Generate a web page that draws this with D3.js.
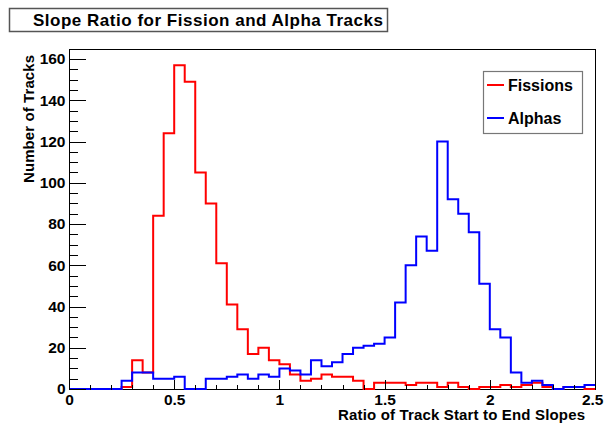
<!DOCTYPE html>
<html>
<head>
<meta charset="utf-8">
<script src="https://cdn.jsdelivr.net/npm/d3@7"></script>
<style>
  body { margin: 0; background: #fff; }
  svg { display: block; }
  text { font-family: "Liberation Sans", Arial, Helvetica, sans-serif; font-weight: bold; }
</style>
</head>
<body>
<script>
// Histogram data: 50 bins of width 0.05 from 0 to 2.5
const binWidth = 0.05;
const fissions = [0, 0, 0, 0, 0, 1, 14, 8, 84, 124,
                  157, 149, 105, 90, 61, 41, 29, 17, 20, 14,
                  12, 7, 4, 5, 7, 6, 6, 4, 0, 3,
                  3, 3, 2, 3, 3, 1, 3, 1, 0, 1,
                  1, 2, 1, 2, 3, 1, 0, 1, 1, 0];
const alphas = [0, 0, 0, 0, 0, 4, 8, 8, 5, 5,
                6, 0, 0, 5, 5, 6, 7, 5, 7, 6,
                10, 9, 7, 14, 11, 13, 17, 20, 21, 22,
                25, 42, 60, 74, 67, 120, 92, 85, 76, 51,
                29, 25, 8, 3, 4, 2, 0, 1, 1, 2];
const yTicks = [0, 20, 40, 60, 80, 100, 120, 140, 160];
const xTicks = [0, 0.5, 1, 1.5, 2, 2.5];
const seriesNames = ["Fissions", "Alphas"];
const seriesColors = ["#ff0000", "#0000ff"];

const W = 604, H = 425;
const frame = { left: 69, right: 595, top: 49, bottom: 389 };

const svg = d3.select("body").append("svg")
  .attr("width", W).attr("height", H);

const x = d3.scaleLinear().domain([0, 2.5]).range([frame.left, frame.right]);
const y = d3.scaleLinear().domain([0, 157 * 1.05]).range([frame.bottom, frame.top]);

// Frame
svg.append("rect")
  .attr("x", frame.left + 0.5).attr("y", frame.top + 0.5)
  .attr("width", frame.right - frame.left).attr("height", frame.bottom - frame.top)
  .attr("fill", "none").attr("stroke", "#000").attr("stroke-width", 1)
  .attr("shape-rendering", "crispEdges");

// Histograms drawn as step outlines
function stepPoints(vals) {
  const pts = vals.map((v, i) => [i * binWidth, v]);
  pts.push([vals.length * binWidth, vals[vals.length - 1]]);
  return pts;
}
const line = d3.line()
  .x(d => x(d[0]))
  .y(d => y(d[1]))
  .curve(d3.curveStepAfter);

[fissions, alphas].forEach((vals, i) => {
  svg.append("path")
    .datum(stepPoints(vals))
    .attr("d", line)
    .attr("fill", "none")
    .attr("stroke", seriesColors[i])
    .attr("stroke-width", 2);
});

// Y axis (ticks inside the frame)
const yMinor = d3.range(0, 165, 5);
svg.append("g")
  .attr("transform", `translate(${frame.left + 0.5},0)`)
  .call(d3.axisLeft(y).tickValues(yMinor).tickSizeInner(-8).tickSizeOuter(0).tickFormat(""))
  .call(g => g.select(".domain").remove());
const yAxis = svg.append("g")
  .attr("transform", `translate(${frame.left + 0.5},0)`)
  .call(d3.axisLeft(y).tickValues(yTicks).tickSizeInner(-16).tickSizeOuter(0).tickPadding(4));
yAxis.select(".domain").remove();
yAxis.selectAll("text").attr("font-size", 15.5).attr("fill", "#000");

// X axis
const xMinor = d3.range(0, 26).map(i => i / 10);
svg.append("g")
  .attr("transform", `translate(0,${frame.bottom + 0.5})`)
  .call(d3.axisBottom(x).tickValues(xMinor).tickSizeInner(-5).tickSizeOuter(0).tickFormat(""))
  .call(g => g.select(".domain").remove());
const xAxis = svg.append("g")
  .attr("transform", `translate(0,${frame.bottom + 0.5})`)
  .call(d3.axisBottom(x).tickValues(xTicks).tickSizeInner(-10).tickSizeOuter(0).tickPadding(4)
    .tickFormat(d => d3.format("")(d)));
xAxis.select(".domain").remove();
xAxis.selectAll("text").attr("font-size", 15.5).attr("fill", "#000");
// keep the last label inside the window
xAxis.selectAll("text").filter(d => d === 2.5)
  .attr("text-anchor", "end").attr("x", 8);

svg.selectAll(".tick line").attr("stroke", "#000").attr("shape-rendering", "crispEdges");

// Axis titles
svg.append("text")
  .attr("transform", `translate(33.5,${frame.top + 6}) rotate(-90)`)
  .attr("text-anchor", "end")
  .attr("font-size", 15)
  .attr("textLength", 128)
  .text("Number of Tracks");

svg.append("text")
  .attr("x", 338).attr("y", 420)
  .attr("font-size", 15)
  .attr("textLength", 247)
  .text("Ratio of Track Start to End Slopes");

// Title box
svg.append("rect")
  .attr("x", 9.5).attr("y", 8.5).attr("width", 378).attr("height", 23)
  .attr("fill", "#fff").attr("stroke", "#555").attr("stroke-width", 1.5);
svg.append("text")
  .attr("x", 33).attr("y", 25.5)
  .attr("font-size", 17)
  .attr("textLength", 350)
  .text("Slope Ratio for Fission and Alpha Tracks");

// Legend
const legend = svg.append("g");
legend.append("rect")
  .attr("x", 483.5).attr("y", 71.5).attr("width", 99).attr("height", 62)
  .attr("fill", "#fff").attr("stroke", "#777").attr("stroke-width", 1.2);
seriesNames.forEach((name, i) => {
  const ly = 85 + i * 33;
  legend.append("line")
    .attr("x1", 487).attr("x2", 504).attr("y1", ly).attr("y2", ly)
    .attr("stroke", seriesColors[i]).attr("stroke-width", 2);
  legend.append("text")
    .attr("x", 508).attr("y", ly + 6)
    .attr("font-size", 16)
    .text(name);
});
</script>
</body>
</html>
